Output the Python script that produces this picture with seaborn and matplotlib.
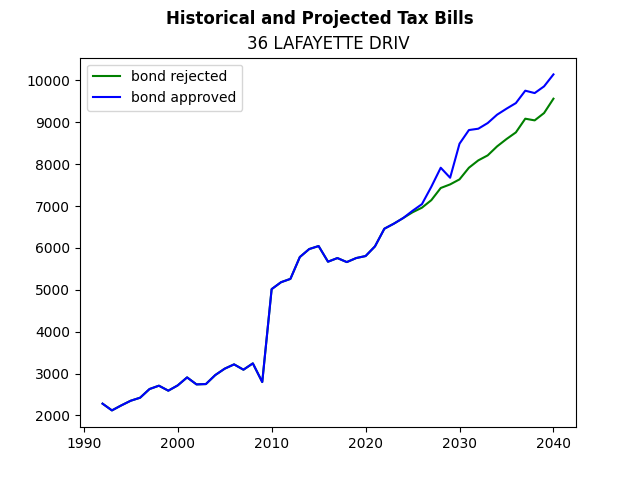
import numpy as np
import pandas as pd
import seaborn as sns
import matplotlib
matplotlib.use('Agg')
import matplotlib.pyplot as plt

# Años historicos y proyectados
years = list(range(1992, 2041))

# Valores (bond approved)
approved = [2280, 2119, 2239, 2350, 2422, 2629, 2709, 2590, 2716, 2907,
            2740, 2748, 2963, 3115, 3218, 3091, 3242, 2796, 5015, 5180,
            5260, 5781, 5972, 6044, 5670, 5757, 5661, 5757, 5805, 6036,
            6458, 6577, 6712, 6886, 7045, 7460, 7914, 7675, 8488, 8814,
            8846, 8981, 9181, 9324, 9458, 9754, 9697, 9857, 10143]

# bond rejected: igual hasta 2024, luego diverge
rejected = approved[:33] + [6850, 6960, 7140, 7430, 7516, 7636, 7914,
                            8090, 8209, 8424, 8599, 8758, 9085, 9045,
                            9220, 9563]

df = pd.DataFrame({'Year': years, 'rejected': rejected, 'approved': approved})

fig, ax = plt.subplots(figsize=(6.4, 4.8), dpi=100)
sns.lineplot(x='Year', y='rejected', data=df, color='green', label='bond rejected', ax=ax)
sns.lineplot(x='Year', y='approved', data=df, color='blue', label='bond approved', ax=ax)

ax.set_xlabel('')
ax.set_ylabel('')
ax.set_title('36 LAFAYETTE DRIV')
fig.suptitle('Historical and Projected Tax Bills', fontweight='bold')
ax.legend(loc='upper left')

fig.savefig('out.png', dpi=100)
